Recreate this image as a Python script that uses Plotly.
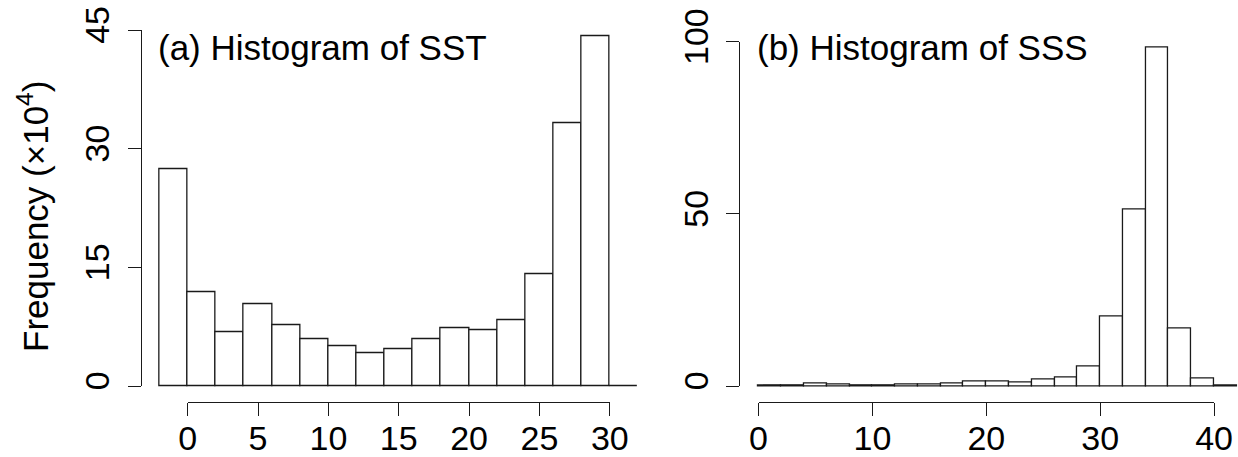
import plotly.graph_objects as go

# Histogram bin edges (left edges), bin width 2
sst_bin_left = [-2, 0, 2, 4, 6, 8, 10, 12, 14, 16, 18, 20, 22, 24, 26, 28, 30]
sst_freq = [27.45, 11.9, 6.77, 10.3, 7.7, 5.97, 5.09, 4.12, 4.67, 5.97, 7.28, 7.06,
            8.37, 14.09, 33.26, 44.28, 0.03]

sss_bin_left = [0, 2, 4, 6, 8, 10, 12, 14, 16, 18, 20, 22, 24, 26, 28, 30, 32, 34, 36, 38, 40]
sss_freq = [0.05, 0.1, 0.6, 0.5, 0.1, 0.1, 0.3, 0.3, 0.6, 1.45, 1.2, 0.9, 1.9, 2.4,
            5.7, 20.1, 51.3, 98.4, 16.8, 2.3, 0.05]

sst_ticks = [0, 5, 10, 15, 20, 25, 30]
sst_yticks = [0, 15, 30, 45]
sss_ticks = [0, 10, 20, 30, 40]
sss_yticks = [0, 50, 100]

BIN_W = 2
W, H = 1238, 457
FONT = "Liberation Sans, Arial, sans-serif"
LINE = "#1a1a1a"


def clamp(v):
    return min(1.0, max(0.0, v))


def px_x(p):
    return clamp(p / W)


def px_y(p):
    return clamp((H - p) / H)


def x_domain(zero_px, unit_px, r0, r1):
    return [px_x(zero_px + unit_px * r0), px_x(zero_px + unit_px * r1)]


def y_domain(zero_px, unit_px, r0, r1):
    return [px_y(zero_px - unit_px * r0), px_y(zero_px - unit_px * r1)]


fig = go.Figure()

bar_style = dict(marker=dict(color="white", line=dict(color=LINE, width=1.3)),
                 width=BIN_W, showlegend=False, hoverinfo="skip")

fig.add_trace(go.Bar(x=[b + BIN_W / 2 for b in sst_bin_left], y=sst_freq,
                     xaxis="x", yaxis="y", **bar_style))
fig.add_trace(go.Bar(x=[b + BIN_W / 2 for b in sss_bin_left], y=sss_freq,
                     xaxis="x2", yaxis="y2", **bar_style))

# empty traces that carry the separate, offset display axes
fig.add_trace(go.Scatter(x=[], y=[], xaxis="x3", yaxis="y3", showlegend=False))
fig.add_trace(go.Scatter(x=[], y=[], xaxis="x4", yaxis="y4", showlegend=False))

# panel geometry (pixel scale of each data axis)
L_X0, L_XU = 187.7, 14.07
L_Y0, L_YU = 386.0, 7.91
R_X0, R_XU = 758.5, 11.39
R_Y0, R_YU = 386.0, 3.443
XAX_Y = 401.7

hidden = dict(visible=False, fixedrange=True, automargin=False)
lx_rng, ly_rng = [-3, 33], [-1, 46]
rx_rng, ry_rng = [-1, 42.05], [-2, 105]

tickfont = dict(family=FONT, size=34, color="black")
common_x = dict(showline=True, linecolor=LINE, linewidth=1.3, ticks="outside",
                ticklen=13, tickwidth=1.3, tickcolor=LINE, showgrid=False,
                zeroline=False, tickfont=tickfont, anchor="free", fixedrange=True,
                tickmode="array", automargin=False, ticklabelstandoff=-7)
common_y = dict(showline=True, linecolor=LINE, linewidth=1.3, ticks="outside",
                ticklen=13, tickwidth=1.3, tickcolor=LINE, showgrid=False,
                zeroline=False, tickfont=tickfont, anchor="free", fixedrange=True,
                tickmode="array", tickangle=-90, side="left", automargin=False,
                ticklabelstandoff=5)

fig.update_layout(
    width=W, height=H,
    margin=dict(l=0, r=0, t=0, b=0, pad=0, autoexpand=False),
    paper_bgcolor="white", plot_bgcolor="rgba(0,0,0,0)",
    bargap=0, showlegend=False,
    xaxis=dict(domain=x_domain(L_X0, L_XU, *lx_rng), range=lx_rng, anchor="y", **hidden),
    yaxis=dict(domain=y_domain(L_Y0, L_YU, *ly_rng), range=ly_rng, anchor="x", **hidden),
    xaxis2=dict(domain=x_domain(R_X0, R_XU, *rx_rng), range=rx_rng, anchor="y2", **hidden),
    yaxis2=dict(domain=y_domain(R_Y0, R_YU, *ry_rng), range=ry_rng, anchor="x2", **hidden),
    xaxis3=dict(domain=x_domain(L_X0, L_XU, sst_ticks[0], sst_ticks[-1]),
                range=[sst_ticks[0], sst_ticks[-1]], tickvals=sst_ticks,
                position=px_y(XAX_Y), **common_x),
    yaxis3=dict(domain=y_domain(L_Y0, L_YU, sst_yticks[0], sst_yticks[-1]),
                range=[sst_yticks[0], sst_yticks[-1]], tickvals=sst_yticks,
                position=px_x(140.7), **common_y),
    xaxis4=dict(domain=x_domain(R_X0, R_XU, sss_ticks[0], sss_ticks[-1]),
                range=[sss_ticks[0], sss_ticks[-1]], tickvals=sss_ticks,
                position=px_y(XAX_Y), **common_x),
    yaxis4=dict(domain=y_domain(R_Y0, R_YU, sss_yticks[0], sss_yticks[-1]),
                range=[sss_yticks[0], sss_yticks[-1]], tickvals=sss_yticks,
                position=px_x(739.3), **common_y),
)

title_font = dict(family=FONT, size=35, color="black")
fig.add_annotation(text="(a) Histogram of SST", xref="paper", yref="paper",
                   x=px_x(156), y=px_y(48), xanchor="left", yanchor="middle",
                   showarrow=False, font=title_font)
fig.add_annotation(text="(b) Histogram of SSS", xref="paper", yref="paper",
                   x=px_x(755), y=px_y(48), xanchor="left", yanchor="middle",
                   showarrow=False, font=title_font)
fig.add_annotation(text="Frequency (×10<sup>4</sup>)", xref="paper", yref="paper",
                   x=px_x(33), y=px_y(217), xanchor="center", yanchor="middle",
                   textangle=-90, showarrow=False, font=title_font)

fig.write_html("out.html")
